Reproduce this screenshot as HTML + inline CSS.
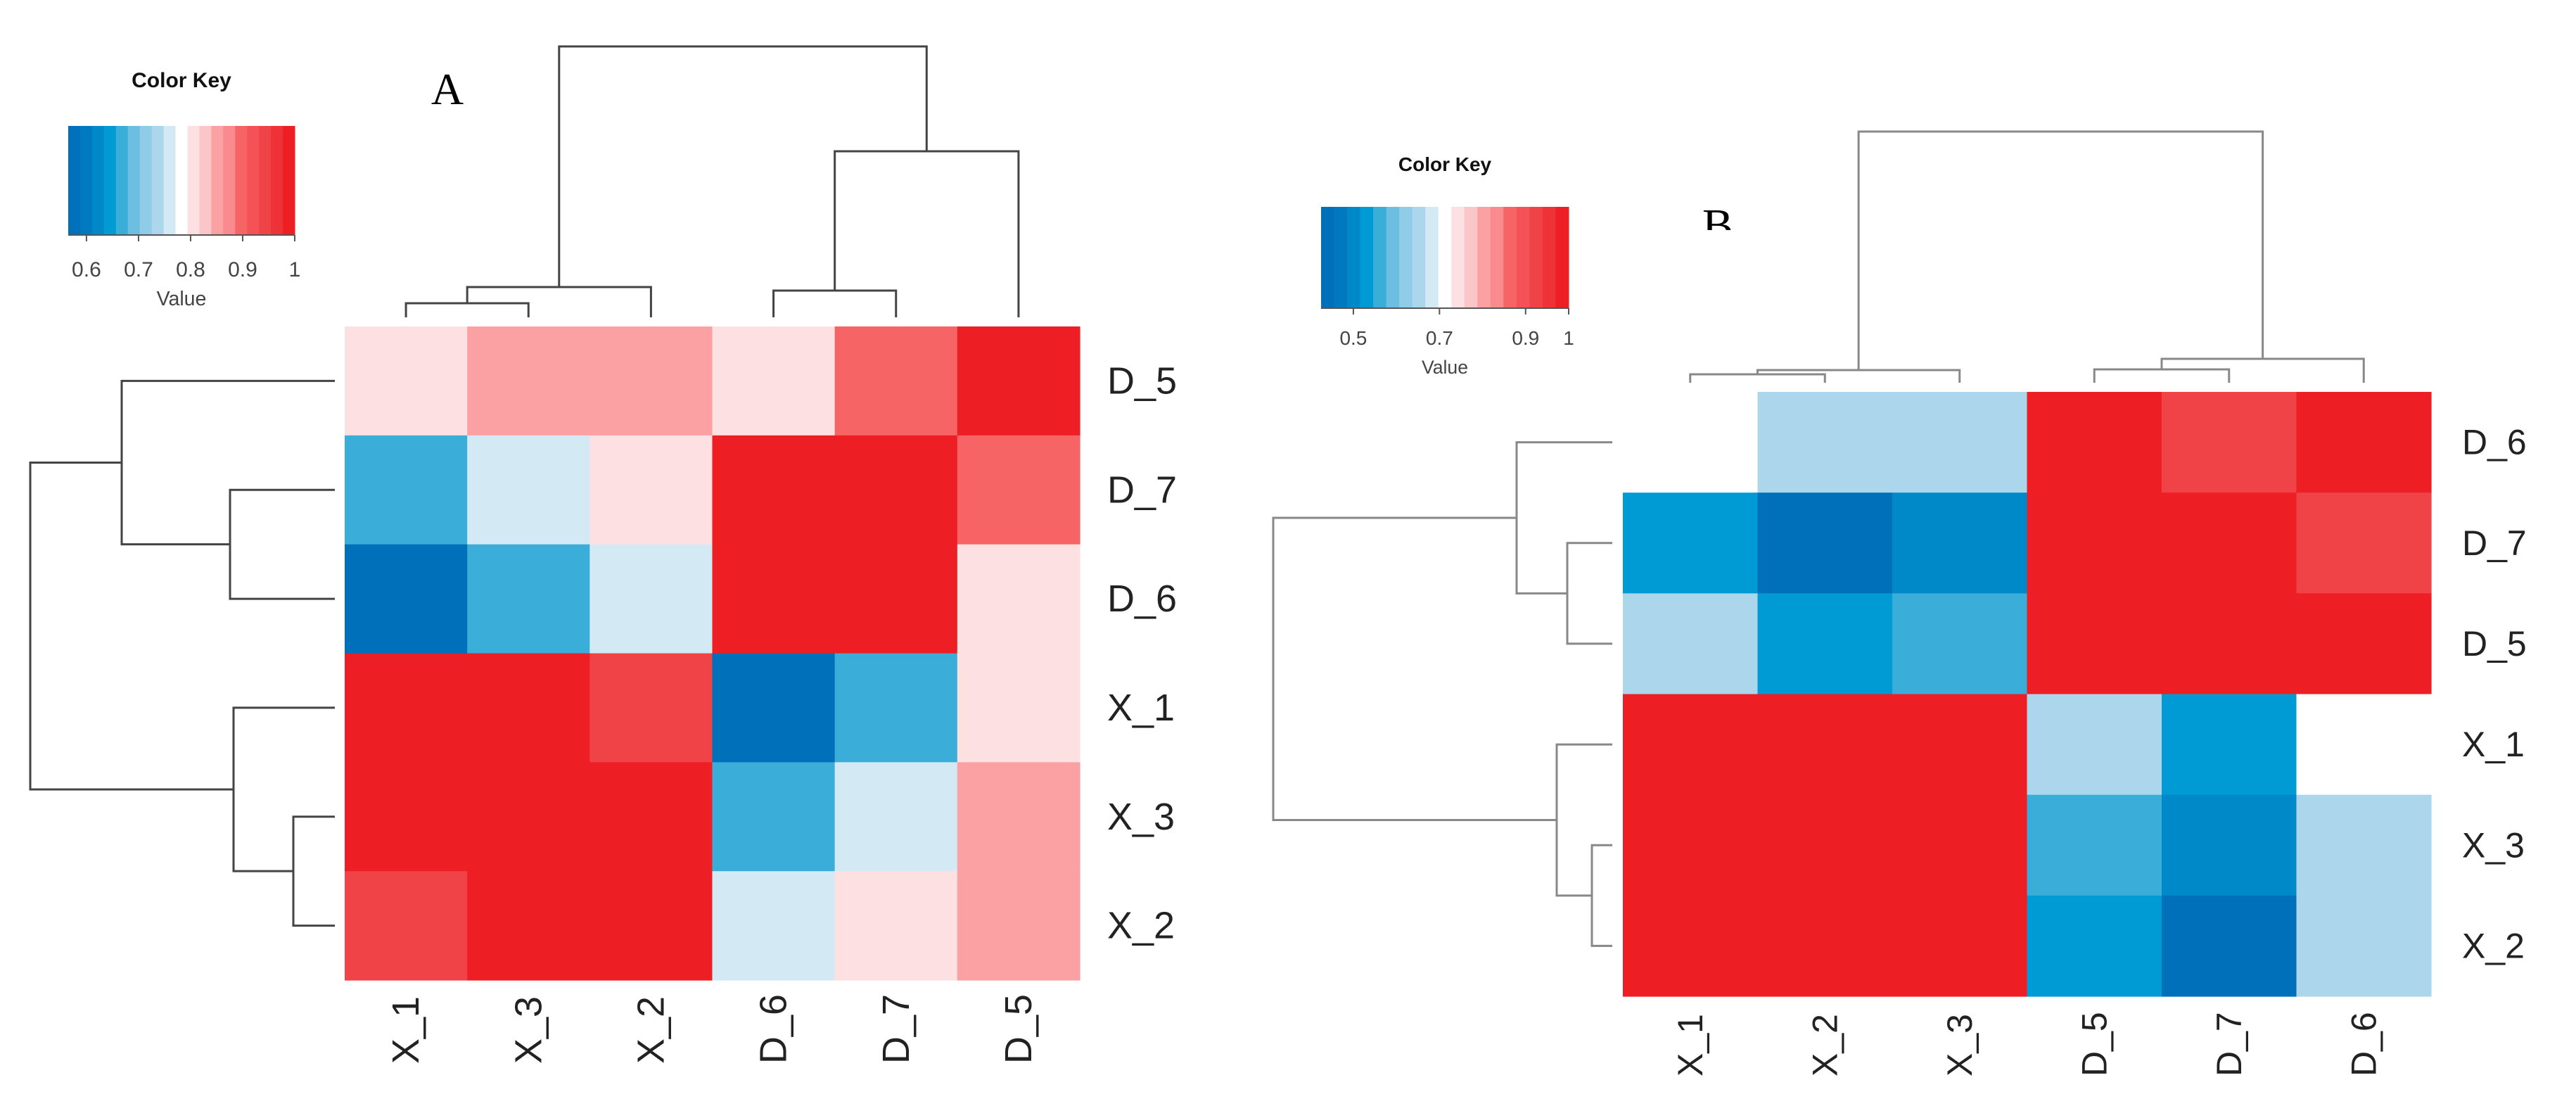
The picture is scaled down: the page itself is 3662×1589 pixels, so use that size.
<!DOCTYPE html>
<html><head><meta charset="utf-8"><style>
html,body{margin:0;padding:0;background:#fff;}
svg{display:block;}
text{font-family:"Liberation Sans",sans-serif;}
</style></head><body>
<svg id="chart" width="3662" height="1589" viewBox="0 0 3662 1589" xmlns="http://www.w3.org/2000/svg">
<defs><clipPath id="clipB"><rect x="2390" y="250" width="120" height="77"/></clipPath></defs>
<text x="636" y="148" font-size="64" text-anchor="middle" style="font-family:'Liberation Serif',serif">A</text>
<g clip-path="url(#clipB)"><text x="2442" y="342" font-size="66" text-anchor="middle" style="font-family:'Liberation Serif',serif">B</text></g>
</svg>
<script>
const palette = ["#0070BA","#0079C0","#0089C8","#009BD4","#3AADD9","#6DBFE2","#8FCCE8","#ABD6EC","#D3E9F4","#FFFFFF","#FDE0E1","#FBC6C8","#FCA1A3","#F98A8D","#F66466","#F45256","#F04348","#EE3237","#ED1F24"];
// Panel A data
const colsA = ["X_1","X_3","X_2","D_6","D_7","D_5"];
const rowsA = ["D_5","D_7","D_6","X_1","X_3","X_2"];
const valuesA = [
 [0.81,0.85,0.85,0.81,0.90,0.99],
 [0.67,0.76,0.81,0.99,0.99,0.90],
 [0.58,0.67,0.76,0.99,0.99,0.81],
 [0.99,0.99,0.94,0.58,0.67,0.81],
 [0.99,0.99,0.99,0.67,0.76,0.85],
 [0.94,0.99,0.99,0.76,0.81,0.85]];
const keyTicksA = [0.6,0.7,0.8,0.9,1];
const keyRangeA = [0.565,1.0];
const topMergesA = [[0,1,20],[6,2,43],[3,4,38],[8,5,236],[7,9,385]];
const leftMergesA = [[1,2,149],[0,6,303],[4,5,59],[3,8,144],[7,9,433]];
// Panel B data
const colsB = ["X_1","X_2","X_3","D_5","D_7","D_6"];
const rowsB = ["D_6","D_7","D_5","X_1","X_3","X_2"];
const valuesB = [
 [0.71,0.65,0.65,0.98,0.92,0.98],
 [0.53,0.44,0.50,0.98,0.98,0.92],
 [0.65,0.53,0.56,0.98,0.98,0.98],
 [0.98,0.98,0.98,0.65,0.53,0.71],
 [0.98,0.98,0.98,0.56,0.50,0.65],
 [0.98,0.98,0.98,0.53,0.44,0.65]];
const keyTicksB = [0.5,0.7,0.9,1];
const keyRangeB = [0.425,1.0];
const topMergesB = [[0,1,12],[6,2,18],[3,4,19],[8,5,34],[7,9,357]];
const leftMergesB = [[1,2,64],[0,6,136],[4,5,29],[3,8,79],[7,9,482]];

const NS="http://www.w3.org/2000/svg";
const svg=document.getElementById('chart');
function mk(tag,attrs,parent){const e=document.createElementNS(NS,tag);for(const k in attrs)e.setAttribute(k,attrs[k]);(parent||svg).appendChild(e);return e;}
function colorFor(v,range){let b=Math.floor((v-range[0])/(range[1]-range[0])*palette.length);b=Math.max(0,Math.min(palette.length-1,b));return palette[b];}

function panel(cfg){
 const g=mk('g',{});
 
 
 const cw=(cfg.hx1-cfg.hx0)/cfg.cols.length, ch=(cfg.hy1-cfg.hy0)/cfg.rows.length;
 const xC=i=>cfg.hx0+cw*(i+0.5), yC=j=>cfg.hy0+ch*(j+0.5);
 cfg.values.forEach((row,j)=>row.forEach((v,i)=>{
  const r=mk('rect',{x:cfg.hx0+cw*i,y:cfg.hy0+ch*j,width:cw+0.6,height:ch+0.6,fill:colorFor(v,cfg.range)},g);
  
  
 }));
 cfg.rows.forEach((lab,j)=>{
  const t=mk('text',{x:cfg.rowLabelX,y:yC(j),'font-size':cfg.fs,'dominant-baseline':'central',fill:'#222'},g);
  t.textContent=lab;
  
  
 });
 cfg.cols.forEach((lab,i)=>{
  const t=mk('text',{x:0,y:0,'font-size':cfg.fs,'dominant-baseline':'central',fill:'#222',transform:`translate(${xC(i)},${cfg.colLabelY}) rotate(-90)`},g);
  t.textContent=lab;
  
  
 });
 function dendro(merges,leafPos,base,name){
  const dg=mk('g',{fill:'none',stroke:cfg.lineColor,'stroke-width':3},g);
  
  
  const nodes=leafPos.map(p=>({p:p,h:0}));
  merges.forEach(m=>{
   const a=nodes[m[0]],b=nodes[m[1]],h=m[2];
   const c=v=>base-v;
   let d;
   if(name.indexOf('top')>=0){
     d=`M${a.p},${c(a.h)}V${c(h)}H${b.p}V${c(b.h)}`;
   }else{
     d=`M${c(a.h)},${a.p}H${c(h)}V${b.p}H${c(b.h)}`;
   }
   mk('path',{d:d},dg);
   nodes.push({p:(a.p+b.p)/2,h:h});
  });
 }
 dendro(cfg.topMerges,cfg.cols.map((c,i)=>xC(i)),cfg.topBase,'top-dendrogram');
 dendro(cfg.leftMerges,cfg.rows.map((r,j)=>yC(j)),cfg.leftBase,'left-dendrogram');
 const k=cfg.key;
 const kg=mk('g',{},g);
 
 
 const bw=(k.x1-k.x0)/palette.length;
 palette.forEach((c,i)=>mk('rect',{x:k.x0+bw*i,y:k.y0,width:bw+0.5,height:k.y1-k.y0,fill:c},kg));
 const kx=v=>k.x0+(v-cfg.range[0])/(cfg.range[1]-cfg.range[0])*(k.x1-k.x0);
 mk('line',{x1:k.x0,x2:k.x1,y1:k.y1,y2:k.y1,stroke:'#555','stroke-width':2},kg);
 cfg.ticks.forEach(v=>{
  mk('line',{x1:kx(v),x2:kx(v),y1:k.y1,y2:k.y1+9,stroke:'#555','stroke-width':2},kg);
  const t=mk('text',{x:kx(v),y:k.tickY,'font-size':k.fs,'text-anchor':'middle',fill:'#444'},kg);
  t.textContent=String(v);
 });
 const tt=mk('text',{x:(k.x0+k.x1)/2,y:k.titleY,'font-size':k.fs,'font-weight':'bold','text-anchor':'middle',fill:'#111'},kg);
 tt.textContent='Color Key';
 const vt=mk('text',{x:(k.x0+k.x1)/2,y:k.valueY,'font-size':k.fs*0.95,'text-anchor':'middle',fill:'#444'},kg);
 vt.textContent='Value';
}
panel({name:'panel-a',cols:colsA,rows:rowsA,values:valuesA,range:keyRangeA,ticks:keyTicksA,
 hx0:490,hx1:1535,hy0:464,hy1:1393,rowLabelX:1574,colLabelY:1512,fs:54,lineColor:'#444',
 topMerges:topMergesA,leftMerges:leftMergesA,topBase:451,leftBase:476,
 key:{x0:97,x1:419,y0:179,y1:334,tickY:393,titleY:124,valueY:434,fs:30}});
panel({name:'panel-b',cols:colsB,rows:rowsB,values:valuesB,range:keyRangeB,ticks:keyTicksB,
 hx0:2307,hx1:3456,hy0:557,hy1:1416,rowLabelX:3500,colLabelY:1530,fs:50,lineColor:'#888',
 topMerges:topMergesB,leftMerges:leftMergesB,topBase:544,leftBase:2292,
 key:{x0:1878,x1:2230,y0:294,y1:438,tickY:490,titleY:243,valueY:531,fs:28}});
</script>
</body></html>
